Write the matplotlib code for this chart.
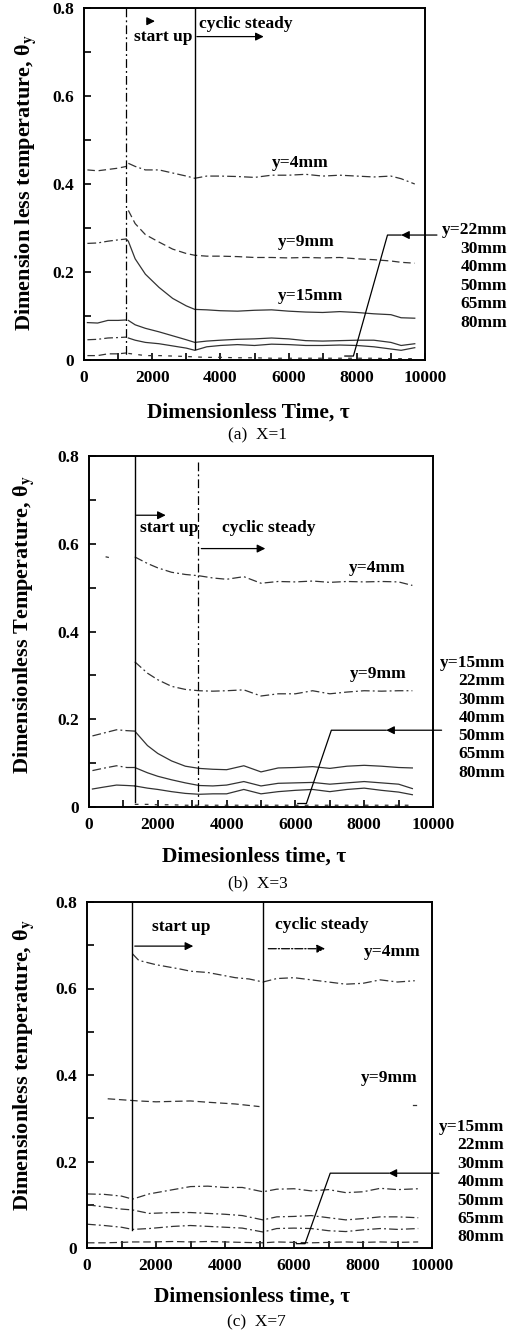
import numpy as np
import matplotlib
matplotlib.use("Agg")
import matplotlib.pyplot as plt

plt.rcParams['font.family'] = ['Liberation Serif', 'DejaVu Serif']
plt.rcParams['mathtext.fontset'] = 'stix'

# ---- panel (a) X=1 ----
a_x_pre = [100, 400, 700, 1000, 1240]
a_4mm_pre = [0.432, 0.430, 0.433, 0.436, 0.440]
a_9mm_pre = [0.265, 0.266, 0.270, 0.273, 0.275]
a_15mm_pre = [0.085, 0.084, 0.090, 0.090, 0.091]
a_22mm_pre = [0.046, 0.047, 0.050, 0.051, 0.052]
a_30mm_pre = [0.010, 0.010, 0.014, 0.014, 0.016]

a_x = [1300, 1500, 1800, 2200, 2600, 3000, 3250, 3600, 4000, 4500, 5000,
       5500, 6000, 6500, 7000, 7500, 8000, 8500, 9000, 9300, 9700]
a_4mm = [0.447, 0.440, 0.432, 0.432, 0.425, 0.418, 0.413, 0.418, 0.418, 0.417, 0.415,
         0.420, 0.420, 0.422, 0.418, 0.420, 0.418, 0.416, 0.418, 0.412, 0.400]
a_9mm = [0.340, 0.310, 0.285, 0.268, 0.252, 0.242, 0.238, 0.236, 0.236, 0.235, 0.233,
         0.233, 0.232, 0.233, 0.232, 0.233, 0.230, 0.228, 0.225, 0.222, 0.220]
a_15mm = [0.270, 0.230, 0.195, 0.165, 0.140, 0.123, 0.115, 0.114, 0.112, 0.111, 0.113,
          0.114, 0.111, 0.109, 0.108, 0.110, 0.108, 0.105, 0.103, 0.096, 0.095]
a_22mm = [0.090, 0.080, 0.072, 0.064, 0.055, 0.046, 0.040, 0.043, 0.045, 0.047, 0.048,
          0.050, 0.048, 0.044, 0.043, 0.044, 0.045, 0.045, 0.040, 0.033, 0.037]
a_30mm = [0.050, 0.045, 0.040, 0.037, 0.032, 0.027, 0.022, 0.030, 0.033, 0.035, 0.033,
          0.036, 0.035, 0.033, 0.033, 0.034, 0.033, 0.030, 0.025, 0.022, 0.028]
a_40mm = [0.015, 0.013, 0.010, 0.010, 0.009, 0.008, 0.007, 0.006, 0.006, 0.005, 0.005,
          0.004, 0.004, 0.004, 0.004, 0.004, 0.004, 0.004, 0.003, 0.003, 0.003]

# ---- panel (b) X=3 ----
b_x_pre = [100, 400, 800, 1100, 1330]
b_15mm_pre = [0.162, 0.168, 0.176, 0.174, 0.173]
b_22mm_pre = [0.083, 0.088, 0.094, 0.090, 0.090]
b_30mm_pre = [0.041, 0.045, 0.050, 0.049, 0.048]

b_x = [1330, 1700, 2000, 2400, 2800, 3200, 3600, 4000, 4500, 5000,
       5500, 6000, 6500, 7000, 7500, 8000, 8500, 9000, 9400]
b_4mm = [0.570, 0.555, 0.545, 0.535, 0.530, 0.527, 0.522, 0.519, 0.525, 0.510,
         0.514, 0.513, 0.515, 0.512, 0.514, 0.513, 0.514, 0.513, 0.505]
b_9mm = [0.331, 0.305, 0.290, 0.275, 0.268, 0.265, 0.264, 0.265, 0.267, 0.253,
         0.258, 0.258, 0.265, 0.258, 0.262, 0.265, 0.264, 0.265, 0.265]
b_15mm = [0.173, 0.140, 0.122, 0.105, 0.093, 0.088, 0.086, 0.085, 0.094, 0.080,
          0.089, 0.090, 0.092, 0.088, 0.093, 0.095, 0.093, 0.090, 0.089]
b_22mm = [0.090, 0.078, 0.070, 0.062, 0.055, 0.049, 0.048, 0.050, 0.058, 0.048,
          0.054, 0.055, 0.056, 0.052, 0.055, 0.058, 0.055, 0.052, 0.042]
b_30mm = [0.048, 0.043, 0.040, 0.035, 0.031, 0.029, 0.030, 0.030, 0.040, 0.030,
          0.035, 0.038, 0.040, 0.035, 0.040, 0.043, 0.038, 0.034, 0.028]
b_40mm = [0.006, 0.006, 0.005, 0.005, 0.004, 0.004, 0.004, 0.004, 0.004, 0.004,
          0.004, 0.004, 0.004, 0.004, 0.004, 0.004, 0.004, 0.004, 0.004]

# ---- panel (c) X=7 ----
c_x4 = [1320, 1500, 2000, 2700, 3000, 3500, 4300, 4700, 5100, 5500,
        6000, 6500, 7000, 7500, 8000, 8500, 9000, 9500]
c_4mm = [0.680, 0.665, 0.655, 0.645, 0.640, 0.637, 0.625, 0.622, 0.615, 0.623,
         0.625, 0.620, 0.615, 0.610, 0.612, 0.620, 0.615, 0.618]
c_x9 = [600, 1500, 2000, 3000, 3500, 4300, 5000]
c_9mm = [0.345, 0.340, 0.338, 0.340, 0.337, 0.333, 0.327]
c_x = [0, 500, 1000, 1320, 1800, 2500, 3000, 3500, 4000, 4500,
       5100, 5500, 6000, 6500, 7000, 7500, 8000, 8500, 9000, 9600]
c_15mm = [0.125, 0.124, 0.120, 0.113, 0.125, 0.135, 0.142, 0.143, 0.140, 0.140,
          0.130, 0.136, 0.137, 0.132, 0.135, 0.128, 0.130, 0.138, 0.135, 0.137]
c_22mm = [0.100, 0.095, 0.090, 0.088, 0.080, 0.082, 0.082, 0.080, 0.078, 0.075,
          0.065, 0.072, 0.073, 0.075, 0.070, 0.065, 0.068, 0.072, 0.072, 0.070]
c_30mm = [0.055, 0.052, 0.048, 0.043, 0.045, 0.050, 0.052, 0.050, 0.048, 0.046,
          0.037, 0.045, 0.046, 0.045, 0.040, 0.038, 0.042, 0.045, 0.043, 0.045]
c_40mm = [0.012, 0.012, 0.013, 0.014, 0.014, 0.015, 0.014, 0.015, 0.014, 0.013,
          0.012, 0.014, 0.013, 0.012, 0.013, 0.014, 0.013, 0.014, 0.013, 0.014]

W, H = 515, 1330
fig = plt.figure(figsize=(W / 100, H / 100), dpi=100)


def box(l, t, r, b):
    return [l / W, 1 - b / H, (r - l) / W, (b - t) / H]


DD = (0, (7, 2.5, 1.5, 2.5))
DS = (0, (6, 3))
SP = (0, (3, 5))
lc = '0.2'
lw = 0.9

ax_a = fig.add_axes(box(84, 8, 425, 360))
ax_b = fig.add_axes(box(89, 456, 433, 807))
ax_c = fig.add_axes(box(87, 902, 432, 1248))

for ax in (ax_a, ax_b, ax_c):
    ax.set_xlim(0, 10000)
    ax.set_ylim(0, 0.8)
    ax.set_xticks([0, 2000, 4000, 6000, 8000, 10000])
    ax.set_xticks(np.arange(1000, 10000, 2000), minor=True)
    ax.set_yticks([0, 0.2, 0.4, 0.6, 0.8])
    ax.set_yticks([0.1, 0.3, 0.5, 0.7], minor=True)
    ax.set_yticklabels(['0', '0.2', '0.4', '0.6', '0.8'])
    ax.tick_params(which='both', direction='in', length=5, width=1.2,
                   top=False, right=False, labelsize=12.5, pad=7)
    for lab in ax.get_xticklabels() + ax.get_yticklabels():
        lab.set_fontweight('bold')
    for s in ax.spines.values():
        s.set_linewidth(1.4)


def arrow(ax, x0, x1, y, ls='-'):
    ax.annotate('', xy=(x1, y), xytext=(x0, y),
                arrowprops=dict(arrowstyle='-|>', color='k', lw=0.9, ls=ls,
                                mutation_scale=12, shrinkA=0, shrinkB=0),
                annotation_clip=False)


def pointer(ax, x_low, y_low, x_knee, y, x_head, x_end):
    ax.plot([x_low - 250, x_low, x_knee, x_head], [y_low, y_low, y, y],
            color='k', lw=0.9, clip_on=False)
    arrow(ax, x_end, x_head, y)


# (a)
ax = ax_a
ax.plot(a_x_pre, a_4mm_pre, color=lc, lw=lw, ls=DS)
ax.plot(a_x_pre, a_9mm_pre, color=lc, lw=lw, ls=DD)
ax.plot([a_x_pre[-1]] + a_x, [a_9mm_pre[-1]] + a_15mm, color=lc, lw=lw)
ax.plot(a_x_pre, a_15mm_pre, color=lc, lw=lw)
ax.plot(a_x_pre, a_22mm_pre, color=lc, lw=lw, ls=DD)
ax.plot(a_x_pre, a_30mm_pre, color=lc, lw=lw, ls=DS)
ax.plot(a_x, a_4mm, color=lc, lw=lw, ls=DD)
ax.plot(a_x, a_9mm, color=lc, lw=lw, ls=DS)
ax.plot(a_x, a_22mm, color=lc, lw=lw)
ax.plot(a_x, a_30mm, color=lc, lw=lw)
ax.plot(a_x, a_40mm, color=lc, lw=lw, ls=SP)
ax.plot([1235, 1235], [0.8, 0.012], color='k', lw=0.9, ls=DD)
ax.plot([3250, 3250], [0.8, 0.025], color='k', lw=1.0)
arrow(ax, 1850, 2080, 0.77)
arrow(ax, 3310, 5270, 0.735)
ax.text(2330, 0.735, 'start up', ha='center', va='center', fontsize=12.5, fontweight='bold')
ax.text(3360, 0.764, 'cyclic steady', ha='left', va='center', fontsize=12.5, fontweight='bold')
ax.text(6350, 0.447, 'y=4mm', ha='center', va='center', fontsize=12.5, fontweight='bold')
ax.text(6520, 0.269, 'y=9mm', ha='center', va='center', fontsize=12.5, fontweight='bold')
ax.text(6650, 0.146, 'y=15mm', ha='center', va='center', fontsize=12.5, fontweight='bold')
pointer(ax, 7900, 0.009, 8900, 0.284, 9300, 10350)

# (b)
ax = ax_b
ax.plot([500, 560], [0.570, 0.569], color=lc, lw=lw)
ax.plot(b_x_pre, b_15mm_pre, color=lc, lw=lw, ls=DD)
ax.plot(b_x_pre, b_22mm_pre, color=lc, lw=lw, ls=DD)
ax.plot(b_x_pre, b_30mm_pre, color=lc, lw=lw)
ax.plot(b_x, b_4mm, color=lc, lw=lw, ls=DD)
ax.plot(b_x, b_9mm, color=lc, lw=lw, ls=DD)
ax.plot(b_x, b_15mm, color=lc, lw=lw)
ax.plot(b_x, b_22mm, color=lc, lw=lw)
ax.plot(b_x, b_30mm, color=lc, lw=lw)
ax.plot(b_x, b_40mm, color=lc, lw=lw, ls=SP)
ax.plot([1330, 1330], [0.8, 0.011], color='k', lw=1.0)
ax.plot([3170, 3170], [0.787, 0.005], color='k', lw=0.9, ls=DD)
arrow(ax, 1375, 2230, 0.665)
arrow(ax, 3265, 5125, 0.589)
ax.text(1470, 0.635, 'start up', ha='left', va='center', fontsize=12.5, fontweight='bold')
ax.text(3880, 0.637, 'cyclic steady', ha='left', va='center', fontsize=12.5, fontweight='bold')
ax.text(8370, 0.544, 'y=4mm', ha='center', va='center', fontsize=12.5, fontweight='bold')
ax.text(8420, 0.302, 'y=9mm', ha='center', va='center', fontsize=12.5, fontweight='bold')
pointer(ax, 6320, 0.008, 7045, 0.175, 8640, 10250)

# (c)
ax = ax_c
ax.plot(c_x4, c_4mm, color=lc, lw=lw, ls=DD)
ax.plot(c_x9, c_9mm, color=lc, lw=lw, ls=DS)
ax.plot([9450, 9550], [0.331, 0.331], color=lc, lw=lw)
ax.plot(c_x, c_15mm, color=lc, lw=lw, ls=DD)
ax.plot(c_x, c_22mm, color=lc, lw=lw, ls=DD)
ax.plot(c_x, c_30mm, color=lc, lw=lw, ls=DD)
ax.plot(c_x, c_40mm, color=lc, lw=lw, ls=DS)
ax.plot([1317, 1317], [0.8, 0.041], color='k', lw=1.0)
ax.plot([5110, 5110], [0.8, 0.0], color='k', lw=1.0)
arrow(ax, 1385, 3080, 0.698)
arrow(ax, 5255, 6900, 0.692, ls='-.')
ax.text(2740, 0.742, 'start up', ha='center', va='center', fontsize=12.5, fontweight='bold')
ax.text(6805, 0.746, 'cyclic steady', ha='center', va='center', fontsize=12.5, fontweight='bold')
ax.text(8860, 0.685, 'y=4mm', ha='center', va='center', fontsize=12.5, fontweight='bold')
ax.text(8760, 0.392, 'y=9mm', ha='center', va='center', fontsize=12.5, fontweight='bold')
pointer(ax, 6320, 0.010, 7050, 0.173, 8740, 10200)

# axis titles and captions
theta = 'θ$_\\mathbf{y}$'
fig.text(26 / W, 1 - 182 / H, 'Dimension less temperature, ' + theta, rotation=90,
         ha='center', va='center', fontsize=16, fontweight='bold')
fig.text(24 / W, 1 - 625 / H, 'Dimensionless Temperature, ' + theta, rotation=90,
         ha='center', va='center', fontsize=16, fontweight='bold')
fig.text(24 / W, 1 - 1065 / H, 'Dimensionless temperature, ' + theta, rotation=90,
         ha='center', va='center', fontsize=16, fontweight='bold')
fig.text(248 / W, 1 - 413 / H, 'Dimensionless Time, τ', ha='center', va='center',
         fontsize=15.5, fontweight='bold')
fig.text(254 / W, 1 - 857 / H, 'Dimesionless time, τ', ha='center', va='center',
         fontsize=15.5, fontweight='bold')
fig.text(252 / W, 1 - 1297 / H, 'Dimensionless time, τ', ha='center', va='center',
         fontsize=15.5, fontweight='bold')
fig.text(258 / W, 1 - 435 / H, '(a)  X=1', ha='center', va='center', fontsize=12.5)
fig.text(258 / W, 1 - 883 / H, '(b)  X=3', ha='center', va='center', fontsize=12.5)
fig.text(256 / W, 1 - 1322 / H, '(c)  X=7', ha='center', va='center', fontsize=12.5)

# right-hand labels
labs_a = ['y=22mm', '30mm', '40mm', '50mm', '65mm', '80mm']
labs_bc = ['y=15mm', '22mm', '30mm', '40mm', '50mm', '65mm', '80mm']
for i, s in enumerate(labs_a):
    fig.text(507 / W, 1 - (230 + 18.6 * i) / H, s, ha='right', va='center',
             fontsize=12.5, fontweight='bold')
for i, s in enumerate(labs_bc):
    fig.text(505 / W, 1 - (663 + 18.3 * i) / H, s, ha='right', va='center',
             fontsize=12.5, fontweight='bold')
    fig.text(504 / W, 1 - (1127 + 18.4 * i) / H, s, ha='right', va='center',
             fontsize=12.5, fontweight='bold')

fig.savefig('out.png', dpi=100)
